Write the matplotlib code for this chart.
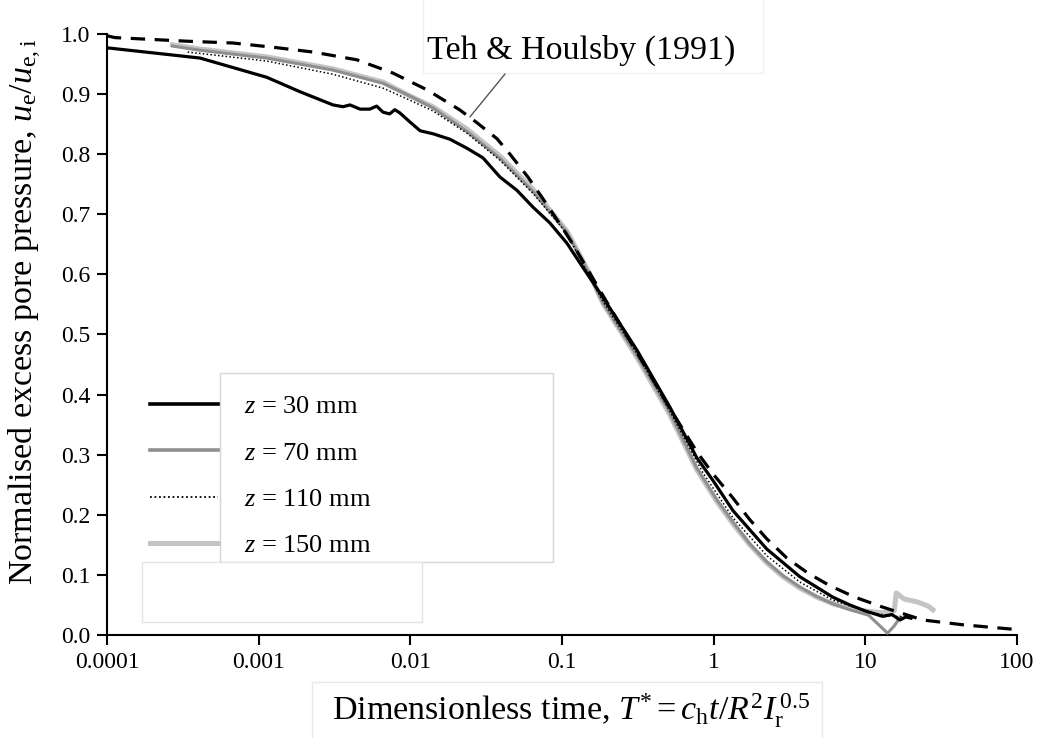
import numpy as np
import matplotlib
matplotlib.use('Agg')
import matplotlib.pyplot as plt
from matplotlib.patches import Rectangle
from matplotlib.lines import Line2D
from matplotlib.ticker import FixedLocator, FixedFormatter

plt.rcParams['font.family'] = 'Liberation Serif'
plt.rcParams['mathtext.fontset'] = 'custom'
plt.rcParams['mathtext.rm'] = 'Liberation Serif'
plt.rcParams['mathtext.it'] = 'Liberation Serif:italic'

# Teh & Houlsby (1991) theoretical curve
T_teh = [1e-4, 1.13e-4, 3.37e-4, 6.78e-4, 1.24e-3, 2.28e-3, 4.45e-3, 7.68e-3, 0.0129,
         0.0211, 0.0273, 0.0372, 0.0454, 0.0596, 0.0748, 0.0968, 0.118, 0.148, 0.186,
         0.312, 0.515, 0.774, 0.99, 1.32, 1.73, 2.24, 3.04, 4.18, 5.84, 8.53, 12.8,
         23.9, 44, 100]
U_teh = [0.997, 0.994, 0.988, 0.985, 0.978, 0.970, 0.957, 0.935, 0.907,
         0.874, 0.853, 0.826, 0.800, 0.762, 0.726, 0.684, 0.650, 0.608, 0.565,
         0.470, 0.377, 0.305, 0.268, 0.230, 0.192, 0.160, 0.128, 0.103, 0.082,
         0.063, 0.047, 0.025, 0.017, 0.009]

# z = 30 mm
T30 = [1e-4, 4.1e-4, 1.13e-3, 1.87e-3, 3.09e-3, 3.6e-3, 4.0e-3, 4.66e-3, 5.4e-3, 6.0e-3,
       6.6e-3, 7.3e-3, 7.9e-3, 8.5e-3, 9.9e-3, 0.0116, 0.0141, 0.0182, 0.0236, 0.0301,
       0.039, 0.0504, 0.0643, 0.0829, 0.1077, 0.137, 0.186, 0.312, 0.515, 0.774, 0.99,
       1.34, 2.24, 3.70, 6.1, 7.9, 10, 13, 15, 16.9, 18.5, 20]
U30 = [0.977, 0.960, 0.928, 0.904, 0.882, 0.879, 0.882, 0.875, 0.875, 0.880,
       0.870, 0.867, 0.874, 0.869, 0.854, 0.839, 0.834, 0.825, 0.810, 0.794,
       0.762, 0.740, 0.712, 0.686, 0.652, 0.612, 0.562, 0.474, 0.379, 0.295, 0.257,
       0.207, 0.143, 0.097, 0.063, 0.050, 0.040, 0.031, 0.034, 0.025, 0.030, 0.028]

# z = 70 mm
T70 = [2.7e-4, 4.1e-4, 1.13e-3, 3.09e-3, 6.6e-3, 9.9e-3, 0.0141, 0.0236, 0.039, 0.0643,
       0.1077, 0.146, 0.186, 0.312, 0.515, 0.774, 1.05, 1.34, 1.73, 2.24, 2.86, 3.7,
       4.79, 6.1, 7.9, 10.5, 12.5, 14, 15.5, 17]
U70 = [0.980, 0.973, 0.960, 0.940, 0.918, 0.897, 0.877, 0.838, 0.793, 0.738,
       0.670, 0.608, 0.553, 0.465, 0.370, 0.278, 0.225, 0.188, 0.152, 0.122, 0.099, 0.080,
       0.064, 0.052, 0.042, 0.033, 0.015, 0.003, 0.015, 0.030]

# z = 110 mm
T110 = [3.4e-4, 1.13e-3, 3.09e-3, 6.6e-3, 9.9e-3, 0.0141, 0.0236, 0.039, 0.0643, 0.1077,
        0.186, 0.312, 0.515, 0.849, 1.34, 2.24, 3.7, 6.1, 10, 14, 18]
U110 = [0.970, 0.955, 0.933, 0.910, 0.890, 0.872, 0.835, 0.790, 0.735, 0.668,
        0.555, 0.468, 0.372, 0.270, 0.195, 0.132, 0.088, 0.058, 0.040, 0.032, 0.030]

# z = 150 mm
T150 = [2.7e-4, 4.1e-4, 1.13e-3, 3.09e-3, 6.6e-3, 9.9e-3, 0.0141, 0.0236, 0.039, 0.0643,
        0.1077, 0.146, 0.186, 0.312, 0.515, 0.774, 1.05, 1.34, 1.73, 2.24, 2.86, 3.7,
        4.79, 6.1, 7.9, 10, 13, 15.5, 16, 18, 22, 26, 27.9]
U150 = [0.982, 0.975, 0.962, 0.942, 0.920, 0.897, 0.879, 0.842, 0.797, 0.742,
        0.672, 0.610, 0.552, 0.462, 0.366, 0.275, 0.222, 0.185, 0.150, 0.120, 0.097, 0.078,
        0.063, 0.052, 0.044, 0.040, 0.037, 0.040, 0.070, 0.060, 0.055, 0.048, 0.042]

x_ticks = [1e-4, 1e-3, 1e-2, 1e-1, 1, 10, 100]
x_labels = ['0.0001', '0.001', '0.01', '0.1', '1', '10', '100']
y_ticks = [i / 10 for i in range(11)]

W, H = 1048, 738
fig = plt.figure(figsize=(W / 100, H / 100), dpi=100)
ax = fig.add_axes([107 / W, 1 - 635 / H, (1017 - 107) / W, (635 - 34) / H])
ax.patch.set_alpha(0)

ax.plot(T150, U150, color='#c4c4c4', lw=3.6, solid_joinstyle='round', zorder=2)
ax.plot(T70, U70, color='#8f8f8f', lw=2.2, zorder=3)
ax.plot(T110, U110, color='black', lw=1.1, linestyle=(0, (1, 1.5)), zorder=4)
ax.plot(T30, U30, color='black', lw=2.3, zorder=5)
ax.plot(T_teh, U_teh, color='black', lw=2.3, linestyle=(0, (4.5, 3)), zorder=6)

ax.set_xscale('log')
ax.set_xlim(1e-4, 100)
ax.set_ylim(0, 1.0)
ax.xaxis.set_major_locator(FixedLocator(x_ticks))
ax.xaxis.set_major_formatter(FixedFormatter(x_labels))
ax.xaxis.set_minor_locator(FixedLocator([]))
ax.set_yticks(y_ticks)
ax.set_yticklabels(['%.1f' % v for v in y_ticks])

for s in ['top', 'right']:
    ax.spines[s].set_visible(False)
for s in ['left', 'bottom']:
    ax.spines[s].set_linewidth(1.5)
ax.tick_params(direction='out', length=7, width=1.5, labelsize=17, pad=5)

ax.set_xlabel(r'Dimensionless time, $T^{*} = c_{\mathrm{h}}t/R^{2}I_{\mathrm{r}}^{\,0.5}$',
              fontsize=24.5)
ax.set_ylabel(r'Normalised excess pore pressure, $u_{\mathrm{e}}/u_{\mathrm{e,i}}$',
              fontsize=24.5)
ax.xaxis.set_label_coords((571 - 107) / 910, (635 - 691) / 601)
ax.yaxis.set_label_coords((44 - 107) / 910, (635 - 312) / 601)


def box(x0, y0, x1, y1, ec):
    fig.add_artist(Rectangle((x0 / W, 1 - y1 / H), (x1 - x0) / W, (y1 - y0) / H,
                             transform=fig.transFigure, facecolor='white',
                             edgecolor=ec, lw=1, zorder=-1))


# boxes left over from the spreadsheet chart
box(220, 373, 553, 562, '#d6d6d6')
box(142, 562, 422, 622, '#e4e4e4')
box(423, -2, 763, 73, '#f0f0f0')
box(312, 682, 822, 740, '#e8e8e8')

handles = [Line2D([], [], color='black', lw=2.6),
           Line2D([], [], color='#8f8f8f', lw=2.6),
           Line2D([], [], color='black', lw=1.3, linestyle=(0, (1, 1.5))),
           Line2D([], [], color='#c4c4c4', lw=3.6)]
labels = [r'$z$ = 30 mm', r'$z$ = 70 mm', r'$z$ = 110 mm', r'$z$ = 150 mm']
leg = fig.legend(handles, labels, loc='upper left', bbox_to_anchor=(150 / W, 1 - 395 / H),
                 frameon=False, fontsize=19, handlelength=2.58, handletextpad=1.0,
                 labelspacing=0.86, borderpad=0, borderaxespad=0)
leg.set_zorder(8)

fig.text(581 / W, 1 - 50 / H, 'Teh & Houlsby (1991)', fontsize=24.5, ha='center',
         va='center', zorder=8)
ax.annotate('', xy=(0.0247, 0.862), xycoords='data', xytext=(505, H - 74),
            textcoords='figure pixels',
            arrowprops=dict(arrowstyle='-', color='#555555', lw=1, shrinkA=0, shrinkB=0),
            zorder=8)

fig.savefig('out.png', dpi=100)
